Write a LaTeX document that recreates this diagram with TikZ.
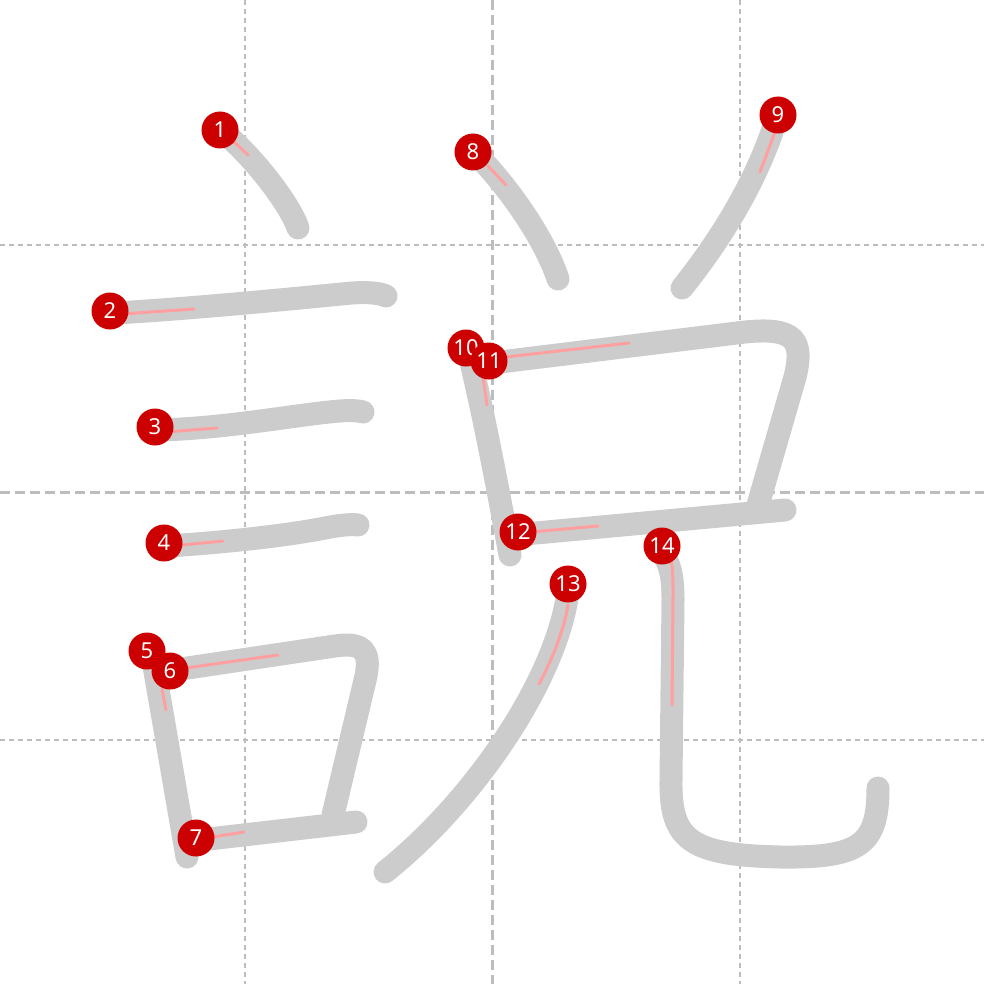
\documentclass[tikz,border=0pt]{standalone}
\usepackage{fontspec}
\setmainfont{Noto Sans}
\definecolor{strokegray}{HTML}{CCCCCC}
\definecolor{gridgray}{HTML}{BDBDBD}
\definecolor{hintred}{HTML}{FF9F9F}
\definecolor{dotred}{HTML}{CC0000}
\tikzset{
  gridq/.style={gridgray, line width=2pt, dash pattern=on 5pt off 4pt},
  gridm/.style={gridgray, line width=3pt, dash pattern=on 10pt off 5pt},
  kstroke/.style={strokegray, line width=23pt, line cap=round, line join=round},
  hint/.style={hintred, line width=3pt, line cap=round},
  num/.style={circle, fill=dotred, minimum size=37pt, inner sep=0pt, text=white, font=\fontsize{22}{22}\selectfont}
}
\begin{document}
\begin{tikzpicture}[x=1pt,y=-1pt]
\useasboundingbox (0,0) rectangle (984,984);
% grid
\draw[gridq] (245,0) -- (245,984);
\draw[gridq] (740,0) -- (740,984);
\draw[gridq] (0,245) -- (984,245);
\draw[gridq] (0,740) -- (984,740);
\draw[gridm] (492,0) -- (492,984);
\draw[gridm] (0,492) -- (984,492);
% strokes
\draw[kstroke] (230,138) .. controls (258,163) and (290,205) .. (298,228);
\draw[kstroke] (116,313) .. controls (200,308) and (300,298) .. (352,293) .. controls (368,292) and (380,293) .. (386,296);
\draw[kstroke] (160,430) .. controls (230,428) and (300,414) .. (340,411) .. controls (352,410) and (360,411) .. (363,412);
\draw[kstroke] (168,546) .. controls (230,542) and (290,535) .. (325,528) .. controls (340,525) and (352,524) .. (358,525);
\draw[kstroke] (154,666) -- (187,857);
\draw[kstroke] (174,670) -- (335,646) .. controls (362,642) and (371,650) .. (366,676) -- (333,815);
\draw[kstroke] (200,840) -- (356,822);
\draw[kstroke] (480,158) .. controls (512,192) and (545,240) .. (558,279);
\draw[kstroke] (776,120) .. controls (757,180) and (722,238) .. (682,288);
\draw[kstroke] (470,358) .. controls (485,420) and (500,500) .. (510,555);
\draw[kstroke] (500,362) -- (745,332) .. controls (795,327) and (804,340) .. (795,377) -- (758,505);
\draw[kstroke] (525,534) -- (785,510);
\draw[kstroke] (568,592) .. controls (556,680) and (475,800) .. (385,872);
\draw[kstroke] (664,556) .. controls (671,566) and (673,580) .. (673,600) -- (671,780) .. controls (670,840) and (690,855) .. (780,857) .. controls (860,858) and (878,845) .. (878,788);
% hints
\draw[hint] (233,141) -- (248,155);
\draw[hint] (122,314) -- (194,309);
\draw[hint] (166,432) -- (217,428);
\draw[hint] (172,546) -- (223,541);
\draw[hint] (162,689) -- (166,710);
\draw[hint] (186,668) -- (278,655);
\draw[hint] (206,838) -- (244,832);
\draw[hint] (488,166) -- (506,185);
\draw[hint] (775,132) -- (760,172);
\draw[hint] (483,377) -- (487,405);
\draw[hint] (506,357) -- (629,343);
\draw[hint] (531,532) -- (598,526);
\draw[hint] (568,605) .. controls (564,630) and (552,660) .. (539,684);
\draw[hint] (671,560) .. controls (673,570) and (673,580) .. (673,595) -- (672,705);
% numbers
\node[num] (n1) at (220,130) {1};
\node[num] (n2) at (110,311) {2};
\node[num] (n3) at (155,427) {3};
\node[num] (n4) at (164,543) {4};
\node[num] (n5) at (147,651) {5};
\node[num] (n6) at (170,671) {6};
\node[num] (n7) at (196,838) {7};
\node[num] (n8) at (473,152) {8};
\node[num] (n9) at (778,115) {9};
\node[num] (n10) at (466,348) {10};
\node[num] (n11) at (489,361) {11};
\node[num] (n12) at (518,532) {12};
\node[num] (n13) at (568,584) {13};
\node[num] (n14) at (662,546) {14};
\end{tikzpicture}
\end{document}
